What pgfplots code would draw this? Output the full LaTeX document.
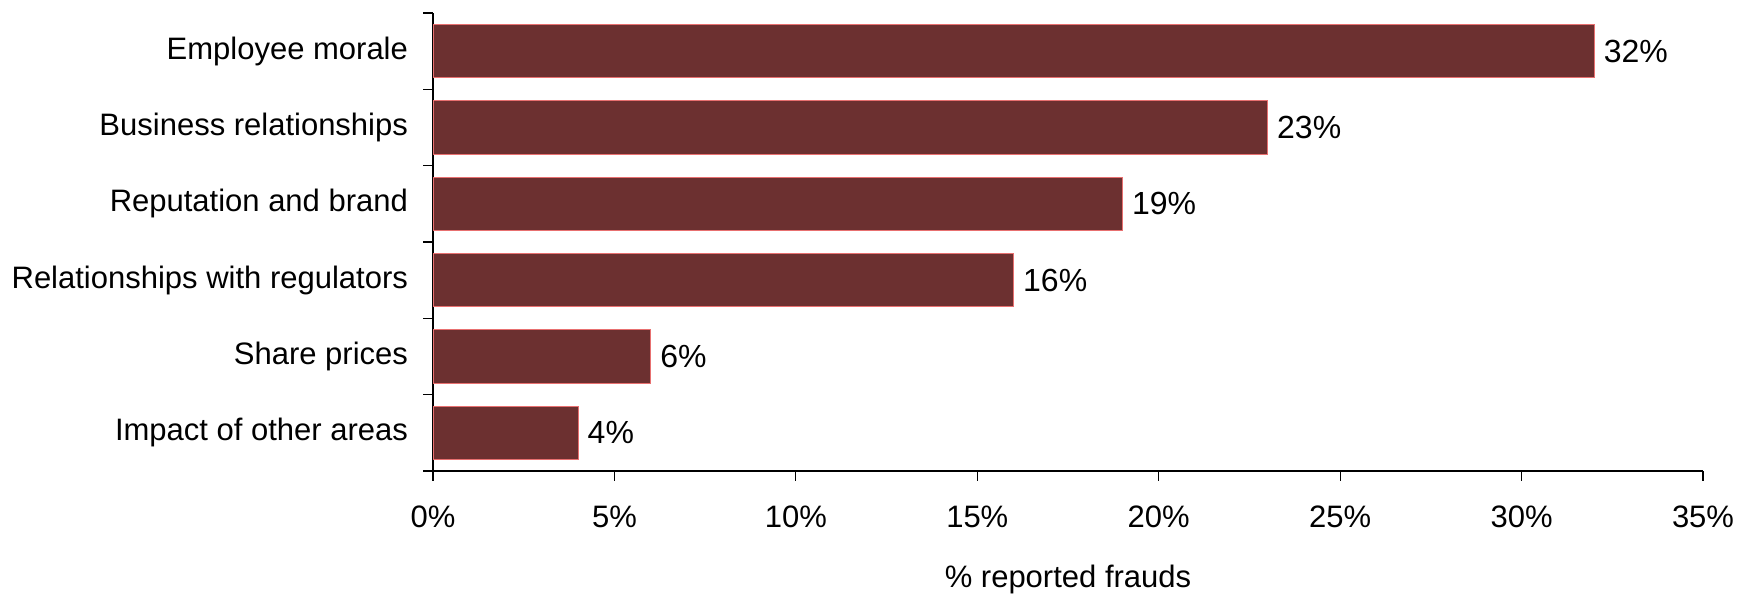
\documentclass[border=0pt]{standalone}
\usepackage{pgfplots}
\pgfplotsset{compat=1.18}
\usepackage{fontspec}
\setmainfont{Liberation Sans}
\definecolor{barfill}{RGB}{108,48,48}
\definecolor{baredge}{RGB}{232,112,112}
\begin{document}
\begin{tikzpicture}
\useasboundingbox (0,0) rectangle (869pt,298.5pt);
\begin{axis}[
  at={(216.5pt,63pt)}, anchor=south west,
  scale only axis, width=635pt, height=229pt,
  xbar, bar width=0.7,
  xmin=0, xmax=35, ymin=-0.5, ymax=5.5,
  axis lines=left, axis line style={-, line width=0.6pt},
  tick align=outside, tick pos=left,
  major tick length=5pt,
  tick style={black, line width=0.6pt},
  xtick={0,5,...,35},
  xticklabel={\pgfmathprintnumber{\tick}\%},
  /pgf/number format/assume math mode=true,
  ytick={-0.5,0.5,...,5.5},
  y tick label as interval,
  yticklabels={Impact of other areas\ ,Share prices,Relationships with regulators,Reputation and brand,Business relationships,Employee morale},
  every tick label/.append style={font=\fontsize{15.5}{18}\selectfont},
  xticklabel style={yshift=-9pt},
  yticklabel style={xshift=-4pt},
  xlabel={\% reported frauds},
  xlabel style={font=\fontsize{15.5}{18}\selectfont, at={(axis description cs:0.5,0)}, anchor=center, yshift=-54pt},
  nodes near coords={\pgfmathprintnumber{\pgfplotspointmeta}\%},
  point meta=x,
  nodes near coords style={font=\fontsize{16}{18}\selectfont, anchor=west, inner sep=2pt, xshift=2.5pt},
]
\addplot[fill=barfill, draw=baredge, line width=0.6pt] coordinates {
 (4,0) (6,1) (16,2) (19,3) (23,4) (32,5)
};
\end{axis}
\end{tikzpicture}
\end{document}
